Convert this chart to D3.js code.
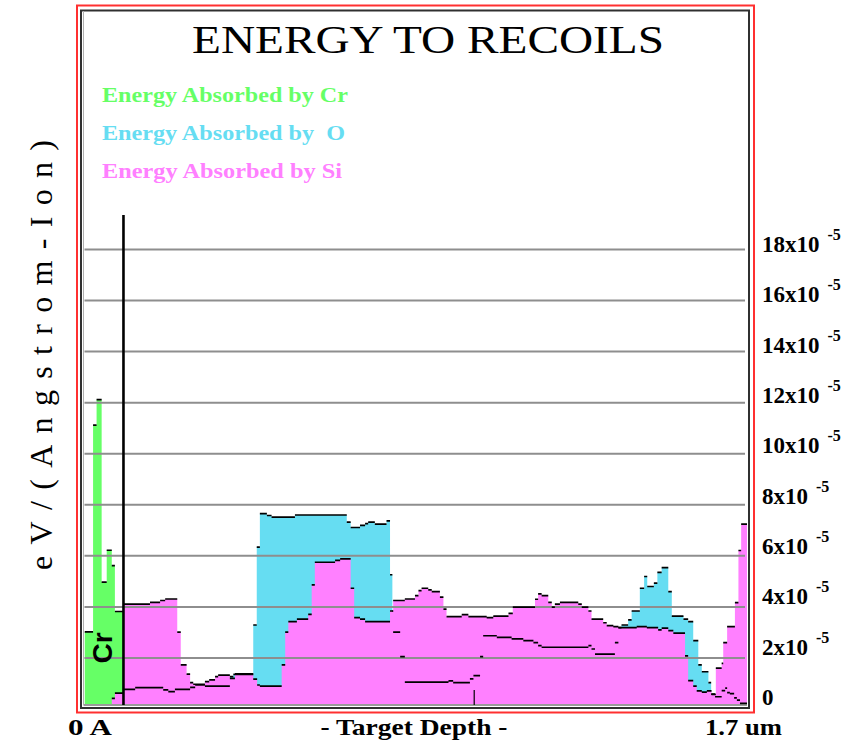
<!DOCTYPE html>
<html>
<head>
<meta charset="utf-8">
<script src="https://cdn.jsdelivr.net/npm/d3@7.9.0/dist/d3.min.js"></script>
<style>
  body { margin: 0; background: #fff; }
  svg { display: block; }
  text { font-family: "Liberation Serif", "DejaVu Serif", serif; }
</style>
</head>
<body>
<div id="chart"></div>
<script>
// depth (Angstrom) where each step starts, value in units of 1e-5 eV/(Angstrom-Ion)
const crDepth = [0, 220, 310, 440, 570, 700, 780];
const crValue = [3.0, 11.1, 12.1, 4.95, 6.2, 5.6, 3.8];

const oDepth = [1000, 1300, 2020, 2150, 2320, 2710, 2840, 3090, 3730, 3820, 4330, 4420, 4500, 4680, 4800,
  5400, 6730, 6830, 7070, 7200, 7280, 7450, 7750, 7840, 7900, 7920, 8100, 8220, 9340, 9460, 9890, 9980,
  10150, 10230, 10580, 10960, 11260, 11520, 11640, 11730, 12930, 13010, 13100, 13610, 13700, 13780,
  13950, 14040, 14250, 14360, 14440, 14610, 14700, 14810, 14980, 15070, 15370, 15490, 15620, 15750,
  15840, 16010, 16080, 16180, 16350, 16440, 16490, 16560, 16670, 16740, 16820];
const oValue = [0.75, 0.82, 0.73, 0.66, 0.75, 0.83, 0.92, 0.88, 1.25, 1.34, 3.27, 6.32, 7.63, 7.56, 7.50,
  7.58, 7.30, 7.09, 7.17, 7.24, 7.30, 7.22, 7.35, 5.24, 3.82, 2.99, 2.03, 1.03, 1.08, 1.01, 1.16, 1.29,
  2.03, 2.85, 2.79, 2.73, 2.66, 2.58, 2.46, 2.40, 2.46, 2.33, 2.13, 2.58, 3.17, 3.27,
  3.47, 3.82, 4.71, 5.17, 4.78, 4.91, 5.33, 5.52, 4.58, 3.62, 3.50, 3.40, 2.66, 1.71,
  1.44, 1.01, 0.56, 0.46, 0.70, 0.80, 0.62, 0.58, 0.42, 0.33, 0.20];

const siDepth = [700, 780, 1000, 1680, 1940, 2070, 2380, 2470, 2620, 2710, 2790, 3090, 3200, 3350, 3430,
  3730, 3860, 4330, 4430, 4500, 5060, 5150, 5230, 5450, 5740, 5830, 5910, 6430, 6560, 6830, 6920, 7070,
  7200, 7840, 7920, 8220, 8480, 8570, 8650, 8820, 8910, 9120, 9210, 9290, 9680, 9850, 10320, 10490,
  10880, 10990, 11560, 11640, 11730, 11900, 11990, 12070, 12200, 12670, 12760, 12930, 13010, 13310,
  13400, 13570, 13700, 14170, 14430, 14720, 14810, 14980, 15110, 15410, 15490, 15620, 15710, 15840,
  15970, 16090, 16200, 16350, 16390, 16490, 16690, 16780, 16850];
const siValue = [0.4, 0.6, 4.09, 4.16, 4.23, 4.29, 2.99, 1.71, 1.35, 1.01, 0.95, 1.05, 1.12, 1.25, 1.31,
  1.18, 1.36, 1.15, 0.92, 0.88, 1.71, 2.99, 3.40, 3.50, 3.69, 4.84, 5.73, 5.80, 5.86, 4.71, 3.56, 3.50,
  3.40, 3.82, 4.23, 4.29, 4.42, 4.62, 4.71, 4.65, 4.58, 4.36, 3.89, 3.60, 3.68, 3.60, 3.56, 3.62,
  3.73, 3.97, 4.28, 4.49, 4.42, 4.16, 3.97, 4.09, 4.16, 4.09, 3.97, 3.82, 3.50, 3.36,
  3.25, 3.21, 3.17, 3.21, 3.17, 3.08, 3.15, 3.05, 2.95, 2.06, 1.09, 0.88, 0.69, 0.64,
  0.69, 0.55, 1.58, 1.77, 2.58, 3.21, 4.15, 6.19, 7.22];

const crLayerEnd = 1000;
const depthMax = 17000;
const depthMark = 10000;
const yTicks = [0, 2, 4, 6, 8, 10, 12, 14, 16, 18];

const series = [
  { name: 'Cr', depth: crDepth, value: crValue, end: crLayerEnd, color: '#66ff66' },
  { name: 'O', depth: oDepth, value: oValue, end: depthMax, color: '#66ddf2' },
  { name: 'Si', depth: siDepth, value: siValue, end: depthMax, color: '#ff80ff' }
];
const legendLabels = ['Energy Absorbed by Cr', 'Energy Absorbed by  O', 'Energy Absorbed by Si'];
const legendWidths = [246, 243, 240];

const width = 861, height = 742;
const plot = { left: 84.5, right: 747, top: 249, zero: 708.5, base: 705 };

const svg = d3.select('#chart').append('svg')
  .attr('width', width).attr('height', height);

const xScale = d3.scaleLinear().domain([0, depthMax]).range([plot.left, plot.right]);
const yScale = d3.scaleLinear().domain([0, 18]).range([plot.zero, plot.top]);
// the tick labels sit on a slightly tighter ladder than the grid
const labelY = d3.scaleLinear().domain([0, 18]).range([705, 252]);

function steps(s) {
  const pts = s.depth.map((d, i) => ({ d, v: s.value[i] }));
  pts.push({ d: s.end, v: s.value[s.value.length - 1] });
  return pts;
}

// frames
svg.append('rect').attr('x', 77).attr('y', 5.5).attr('width', 677).attr('height', 707)
  .attr('fill', 'none').attr('stroke', '#ff3030').attr('stroke-width', 2);
svg.append('rect').attr('x', 81).attr('y', 10.5).attr('width', 668).attr('height', 697.5)
  .attr('fill', 'none').attr('stroke', '#303030').attr('stroke-width', 2);

svg.append('defs').append('clipPath').attr('id', 'plotclip')
  .append('rect').attr('x', plot.left).attr('y', 0)
  .attr('width', plot.right - plot.left).attr('height', plot.base);

// fills, drawn in order so Si sits on top of O
const area = d3.area()
  .x(p => xScale(p.d))
  .y0(yScale(0))
  .y1(p => yScale(p.v))
  .curve(d3.curveStepAfter);

const fills = svg.append('g').attr('clip-path', 'url(#plotclip)');
series.forEach(s => {
  fills.append('path').datum(steps(s))
    .attr('d', area)
    .attr('fill', s.color);
});

// gridlines over the fills
svg.append('g')
  .attr('transform', `translate(${plot.left},0)`)
  .call(d3.axisLeft(yScale).tickValues(yTicks.slice(1)).tickFormat('').tickSize(-(plot.right - 2 - plot.left)))
  .call(g => g.select('.domain').remove())
  .call(g => g.selectAll('line').attr('stroke', '#8e8e8e').attr('stroke-width', 2));

// plot bottom and left inner lines
svg.append('line').attr('x1', plot.left - 1).attr('x2', plot.right).attr('y1', plot.base).attr('y2', plot.base)
  .attr('stroke', '#9a9a9a').attr('stroke-width', 2);
svg.append('line').attr('x1', plot.left - 1).attr('x2', plot.left - 1).attr('y1', 11).attr('y2', plot.base)
  .attr('stroke', '#b0b0b0').attr('stroke-width', 1);

// black step tops
const tops = svg.append('g').attr('clip-path', 'url(#plotclip)');
series.forEach(s => {
  const pts = steps(s);
  let d = '';
  for (let i = 0; i < pts.length - 1; i++) {
    d += `M${xScale(pts[i].d)},${yScale(pts[i].v)}H${xScale(pts[i + 1].d)}`;
  }
  tops.append('path').attr('d', d)
    .attr('fill', 'none').attr('stroke', '#000').attr('stroke-width', 1.7);
});

// Cr layer boundary and 1 um mark
svg.append('line')
  .attr('x1', xScale(crLayerEnd)).attr('x2', xScale(crLayerEnd))
  .attr('y1', 215).attr('y2', plot.base)
  .attr('stroke', '#000').attr('stroke-width', 2.6);
svg.append('line')
  .attr('x1', xScale(depthMark)).attr('x2', xScale(depthMark))
  .attr('y1', 690).attr('y2', plot.base)
  .attr('stroke', '#000').attr('stroke-width', 1.2);

svg.append('text')
  .attr('transform', `translate(112,648) rotate(-90)`)
  .attr('text-anchor', 'middle')
  .style('font-family', '"Liberation Sans", Arial, sans-serif')
  .style('font-size', '28px')
  .style('font-weight', 'bold')
  .text('Cr');

// title
svg.append('text')
  .attr('x', 428).attr('y', 53)
  .attr('text-anchor', 'middle')
  .attr('textLength', 472).attr('lengthAdjust', 'spacingAndGlyphs')
  .style('font-size', '41px')
  .text('ENERGY TO RECOILS');

// legend
legendLabels.forEach((label, i) => {
  svg.append('text')
    .attr('x', 102).attr('y', 102 + i * 38)
    .attr('textLength', legendWidths[i]).attr('lengthAdjust', 'spacingAndGlyphs')
    .style('white-space', 'pre')
    .style('font-size', '22px')
    .style('font-weight', 'bold')
    .attr('fill', series[i].color)
    .text(label);
});

// y axis title
svg.append('text')
  .attr('transform', 'translate(52,355) rotate(-90)')
  .attr('text-anchor', 'middle')
  .attr('textLength', 430).attr('lengthAdjust', 'spacing')
  .style('font-size', '32px')
  .text('eV/(Angstrom-Ion)');

// right tick labels
const labels = svg.append('g');
yTicks.forEach(v => {
  const t = labels.append('text')
    .attr('x', 762).attr('y', labelY(v))
    .style('font-size', '23px')
    .style('font-weight', 'bold');
  if (v === 0) {
    t.text('0');
  } else {
    t.append('tspan').text(v + 'x10');
    t.append('tspan').attr('dx', 8).attr('dy', -12)
      .style('font-size', '16px').text('-5');
  }
});

// bottom labels
svg.append('text').attr('x', 68).attr('y', 735)
  .attr('textLength', 44).attr('lengthAdjust', 'spacingAndGlyphs')
  .style('font-size', '24px').style('font-weight', 'bold').text('0 A');
svg.append('text').attr('x', 414).attr('y', 735).attr('text-anchor', 'middle')
  .attr('textLength', 187).attr('lengthAdjust', 'spacingAndGlyphs')
  .style('font-size', '24px').style('font-weight', 'bold').text('- Target Depth -');
svg.append('text').attr('x', 705).attr('y', 735)
  .attr('textLength', 77).attr('lengthAdjust', 'spacingAndGlyphs')
  .style('font-size', '24px').style('font-weight', 'bold').text('1.7 um');
</script>
</body>
</html>
